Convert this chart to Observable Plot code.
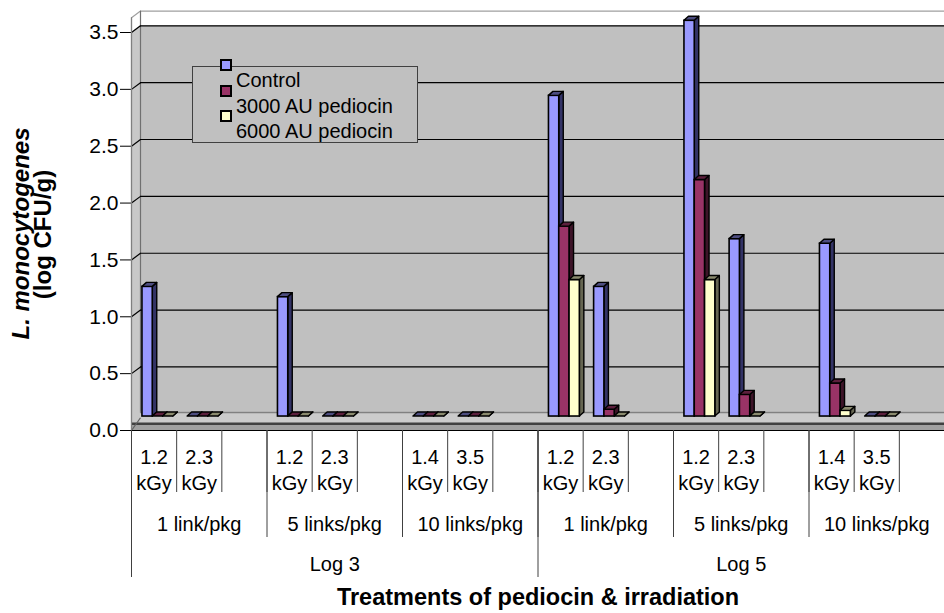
<!DOCTYPE html>
<html>
<head>
<meta charset="utf-8">
<script src="https://cdn.jsdelivr.net/npm/d3@7"></script>
<script src="https://cdn.jsdelivr.net/npm/@observablehq/plot@0.6"></script>
<style>
  body { margin: 0; background: #fff; font-family: "Liberation Sans", Arial, sans-serif; }
  #chart { position: relative; width: 944px; height: 613px; }
  .legend-box { position: absolute; left: 192px; top: 66px; width: 226px; height: 77px;
    background: #c0c0c0; border: 1px solid #404040; box-sizing: border-box; }
  .swatch { position: absolute; width: 12px; height: 12px; border: 2px solid #000; box-sizing: border-box; }
  .legend-label { position: absolute; font-size: 20px; line-height: 20px; color: #000; white-space: nowrap; }
</style>
</head>
<body>
<div id="chart"></div>
<script>
// Treatment hierarchy along the category axis
const inoculumLevels = ["Log 3", "Log 5"];
const linkCounts = ["1 link/pkg", "5 links/pkg", "10 links/pkg"];
const doseLabels = [["1.2", "2.3"], ["1.2", "2.3"], ["1.4", "3.5"]];

// Series (log CFU/g); 0.1 = floor of the value axis (below detection)
const seriesNames = ["Control", "3000 AU pediocin", "6000 AU pediocin"];
const control    = [1.24, 0.1, 1.15, 0.1, 0.1, 0.1, 2.92, 1.24, 3.58, 1.66, 1.62, 0.1];
const pediocin3k = [0.1, 0.1, 0.1, 0.1, 0.1, 0.1, 1.77, 0.16, 2.18, 0.29, 0.39, 0.1];
const pediocin6k = [0.1, 0.1, 0.1, 0.1, 0.1, 0.1, 1.30, 0.1, 1.30, 0.1, 0.15, 0.1];
const seriesValues = [control, pediocin3k, pediocin6k];

const yTicks = [0, 0.5, 1, 1.5, 2, 2.5, 3, 3.5];
const floorValue = 0.1;
const yMax = 3.5;

const frontColors = ["#9999ff", "#993366", "#ffffcc"];
const sideColors  = ["#333366", "#3d1428", "#666652"];
const topColors   = ["#4d4d80", "#5c1f3d", "#8a8a6e"];

// Layout
const W = 944, H = 613;
const mL = 131, mR = 0, mT = 32, mB = 183;
const nSlots = inoculumLevels.length * linkCounts.length * 3;
const kx = (W - mL - mR) / nSlots;        // px per slot
const ky = (H - mT - mB) / yMax;          // px per log unit

// Oblique 3-D offsets (pixels)
const wall = {dx: 9, dy: -6.7};           // back wall relative to front axis
const plane = {dx: 3.5, dy: -2.6};        // front face of the columns
const depth = {dx: 4.5, dy: -4};          // column depth
const wallX = wall.dx / kx, wallY = -wall.dy / ky;
const depthX = depth.dx / kx, depthY = -depth.dy / ky;
const wallTop = yMax + 14.7 / ky;

// Build column records
const bars = [];
let t = 0;
inoculumLevels.forEach((lv, li) => {
  linkCounts.forEach((lk, ki) => {
    doseLabels[ki].forEach((ds, di) => {
      const slot = li * 9 + ki * 3 + di;
      seriesNames.forEach((s, si) => {
        const x1 = slot + 0.165 + si * 0.228;
        bars.push({id: `${t}-${si}`, x1, x2: x1 + 0.228, value: seriesValues[si][t], si});
      });
      t++;
    });
  });
});

const sidePts = bars.flatMap(b => [
  {id: b.id, x: b.x2, y1: floorValue, y2: b.value, fill: sideColors[b.si]},
  {id: b.id, x: b.x2 + depthX, y1: floorValue + depthY, y2: b.value + depthY, fill: sideColors[b.si]}
]);
const topPts = bars.flatMap(b => [
  {id: b.id, y: b.value, x1: b.x1, x2: b.x2, fill: topColors[b.si]},
  {id: b.id, y: b.value + depthY, x1: b.x1 + depthX, x2: b.x2 + depthX, fill: topColors[b.si]}
]);

// Axis cells
const doseCells = [];
inoculumLevels.forEach((lv, li) => linkCounts.forEach((lk, ki) => doseLabels[ki].forEach((ds, di) =>
  doseCells.push({x: li * 9 + ki * 3 + di + 0.5, dose: ds}))));
const linkCells = inoculumLevels.flatMap((lv, li) => linkCounts.map((lk, ki) => ({x: li * 9 + ki * 3 + 1.5, label: lk})));
const levelCells = inoculumLevels.map((lv, li) => ({x: li * 9 + 4.5, label: lv}));
const slotBounds = d3.range(nSlots + 1);
const linkBounds = d3.range(0, nSlots + 1, 3);
const levelBounds = d3.range(0, nSlots + 1, 9);
const frameH = H - mT - mB;
const below = {frameAnchor: "bottom", lineAnchor: "middle", textAnchor: "middle"};

const chart = Plot.plot({
  width: W, height: H,
  marginLeft: mL, marginRight: mR, marginTop: mT, marginBottom: mB,
  x: {domain: [0, nSlots], axis: null},
  y: {domain: [0, yMax], ticks: yTicks, tickFormat: d3.format(".1f"), tickSize: 11, tickPadding: 2, label: null},
  color: {type: "identity"},
  style: {fontFamily: "'Liberation Sans', Arial, sans-serif", fontSize: "21px", background: "white", color: "black"},
  marks: [
    // back wall
    Plot.rect([0], {x1: 0, x2: nSlots, y1: floorValue, y2: yMax, fill: "#c0c0c0", ...wall}),
    // left wall
    Plot.area([{x: 0, y1: 0, y2: yMax}, {x: wallX, y1: wallY, y2: yMax + wallY}],
      {x1: "x", y1: "y1", y2: "y2", fill: "#c8c8c8"}),
    // outline of the wall space above the last gridline
    Plot.line([{x: 0, y: 0}, {x: 0, y: wallTop}, {x: wallX, y: wallTop + wallY}, {x: nSlots + wallX, y: wallTop + wallY}],
      {x: "x", y: "y", stroke: "#a0a0a0", strokeWidth: 1.2}),
    Plot.line([{x: wallX, y: floorValue + wallY}, {x: wallX, y: wallTop + wallY}],
      {x: "x", y: "y", stroke: "#707070", strokeWidth: 1.2}),
    // gridlines on the back wall and the left wall
    Plot.ruleY(yTicks.filter(d => d > 0), {x1: 0, x2: nSlots, stroke: "black", strokeWidth: 1.2, ...wall}),
    Plot.link(yTicks.filter(d => d > 0), {x1: 0, y1: d => d, x2: wallX, y2: d => d + wallY, stroke: "black", strokeWidth: 1.2}),
    // floor
    Plot.rect([0], {x1: 0, x2: nSlots, y1: 0, y2: floorValue, fill: "#cbcbcb", ...wall}),
    Plot.ruleY([floorValue], {x1: 0, x2: nSlots, stroke: "#808080", strokeWidth: 1.5, ...wall}),
    Plot.rect([0], {x1: 0, x2: nSlots, y1: 0, y2: wallY, fill: "#a0a0a0"}),
    Plot.ruleY([wallY], {x1: 0, x2: nSlots, stroke: "#404040", strokeWidth: 2.5, dx: 1}),
    Plot.link([0], {x1: 0, y1: 0, x2: wallX, y2: wallY * 1.9, stroke: "#606060", strokeWidth: 1.2}),
    // columns: side faces, front faces, top faces
    Plot.area(sidePts, {x1: "x", y1: "y1", y2: "y2", z: "id", fill: "fill", stroke: "black", strokeWidth: 1.4, strokeLinejoin: "round", ...plane}),
    Plot.rect(bars, {x1: "x1", x2: "x2", y1: floorValue, y2: "value", fill: d => frontColors[d.si], stroke: "black", strokeWidth: 1.6, ...plane}),
    Plot.area(topPts, {y1: "y", x1: "x1", x2: "x2", z: "id", fill: "fill", stroke: "black", strokeWidth: 1.4, strokeLinejoin: "round", ...plane}),
    // front axis line
    Plot.ruleY([0], {x1: 0, x2: nSlots, stroke: "black", strokeWidth: 1.2}),
    Plot.ruleX([0], {y1: 0, y2: wallTop, stroke: "#808080", strokeWidth: 1.2}),
    // hierarchical category axis
    Plot.ruleX(slotBounds, {x: d => d, insetTop: frameH, insetBottom: -62, stroke: "#404040"}),
    Plot.ruleX(linkBounds, {x: d => d, insetTop: frameH, insetBottom: -107, stroke: "#404040"}),
    Plot.ruleX(levelBounds, {x: d => d, insetTop: frameH, insetBottom: -147, stroke: "#404040"}),
    Plot.text(doseCells, {x: "x", text: "dose", ...below, dy: 27, fontSize: 20}),
    Plot.text(doseCells, {x: "x", text: () => "kGy", ...below, dy: 53, fontSize: 20}),
    Plot.text(linkCells, {x: "x", text: "label", ...below, dy: 94, fontSize: 20}),
    Plot.text(levelCells, {x: "x", text: "label", ...below, dy: 134, fontSize: 20}),
    // axis titles
    Plot.text(["Treatments of pediocin & irradiation"], {...below, dy: 167, fontSize: 23.5, fontWeight: "bold"}),
    Plot.text(["L. monocytogenes"], {frameAnchor: "left", textAnchor: "middle", lineAnchor: "middle", rotate: -90, dx: -110, dy: 2, fontSize: 24, fontWeight: "bold", fontStyle: "italic"}),
    Plot.text(["(log CFU/g)"], {frameAnchor: "left", textAnchor: "middle", lineAnchor: "middle", rotate: -90, dx: -88, dy: 3, fontSize: 24, fontWeight: "bold"})
  ]
});

const host = document.getElementById("chart");
host.append(chart);

// Legend
const box = document.createElement("div");
box.className = "legend-box";
host.append(box);
seriesNames.forEach((name, i) => {
  const sw = document.createElement("div");
  sw.className = "swatch";
  sw.style.left = "220px";
  sw.style.top = (59 + i * 25.5) + "px";
  sw.style.background = frontColors[i];
  host.append(sw);
  const lab = document.createElement("div");
  lab.className = "legend-label";
  lab.style.left = "236px";
  lab.style.top = (70 + i * 25.5) + "px";
  lab.textContent = name;
  host.append(lab);
});
</script>
</body>
</html>
